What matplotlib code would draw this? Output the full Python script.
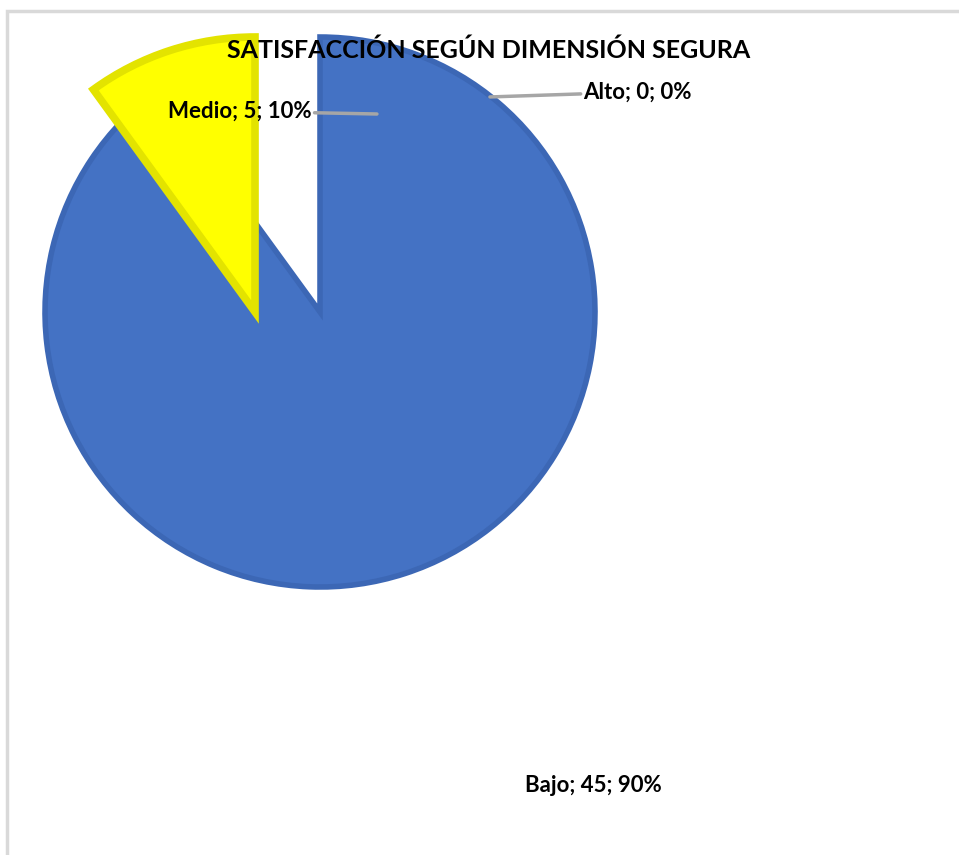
import matplotlib
matplotlib.use("Agg")
import matplotlib.pyplot as plt
from matplotlib.patches import Rectangle

# Satisfaction levels, counts and shares
categories = ["Bajo", "Medio", "Alto"]
counts = [45, 5, 0]
percents = [90, 10, 0]
colors = ["#4472C4", "#FFFF00", "#A5A5A5"]
edge_colors = ["#3C67B5", "#E3E300", "#A5A5A5"]
edge_widths = [4.0, 5.5, 0.0]
title = "SATISFACCIÓN SEGÚN DIMENSIÓN SEGURA"

W, H = 959, 855
fig = plt.figure(figsize=(W / 100, H / 100), dpi=100)

# pie centred at (320, 312) px with a 275 px radius
cx, cy, r = 320, 312, 275
lim = 1.1
half = lim * r
ax = fig.add_axes([(cx - half) / W, (H - cy - half) / H, 2 * half / W, 2 * half / H])

wedges, _ = ax.pie(counts, colors=colors, startangle=90, counterclock=False,
                   radius=1.0)
for w, ec, lw in zip(wedges, edge_colors, edge_widths):
    w.set_edgecolor(ec)
    w.set_linewidth(lw)
    w.set_joinstyle("miter")
# empty "Alto" slice: nothing to draw
wedges[2].set_visible(False)

# pie() resets the limits, so set them afterwards
ax.set_xlim(-lim, lim)
ax.set_ylim(-lim, lim)
ax.set_aspect("equal")
ax.axis("off")

# the "Medio" slice is pulled out sideways
medio_shift = 65 / r
wedges[1].set_center((-medio_shift, 0))
wedges[1].set_zorder(3)

font = "Lato"
lbl = dict(fontsize=16, fontweight="bold", family=font, color="black")
line = dict(arrowstyle="-", color="#A6A6A6", lw=2.5, shrinkA=0, shrinkB=0)

def label(i):
    return f"{categories[i]}; {counts[i]}; {percents[i]}%"

# Medio
ax.annotate(label(1), xy=(0.207, 0.72), xytext=(-0.03, 0.73),
            ha="right", va="center", arrowprops=line, **lbl)
# Alto
ax.annotate(label(2), xy=(0.618, 0.782), xytext=(0.958, 0.80),
            ha="left", va="center", arrowprops=line, **lbl)
# Bajo
ax.annotate(label(0), xy=(0.993, -1.72), ha="center", va="center",
            annotation_clip=False, **lbl)

fig.text(489 / W, 1 - 50 / H, title, ha="center", va="center", fontsize=18,
         fontweight="bold", family=font, color="black", zorder=10)

# chart frame
fig.patches.append(Rectangle((6.5 / W, -0.2), 1.2, 0.2 + (H - 11.5) / H,
                             transform=fig.transFigure, fill=False,
                             edgecolor="#D9D9D9", linewidth=2.5, zorder=0))

fig.savefig("out.png", dpi=100, facecolor="white")
